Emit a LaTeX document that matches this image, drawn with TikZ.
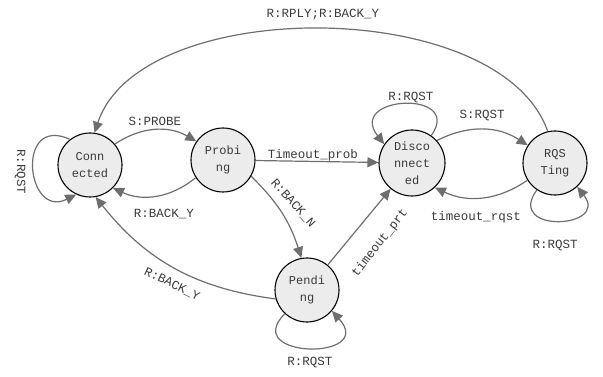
\documentclass[tikz,border=0pt]{standalone}
\usepackage{fontspec}
\setmonofont{Liberation Mono}
\usetikzlibrary{arrows.meta}
\definecolor{edgegray}{HTML}{6E6E6E}
\definecolor{statefill}{HTML}{ECECEC}
\definecolor{textgray}{HTML}{3A3A3A}
\tikzset{
  state/.style={circle, draw=black, line width=1.1pt, fill=statefill,
    minimum size=64pt, inner sep=0pt, align=center, text=textgray,
    font=\ttfamily\fontsize{12}{17}\selectfont},
  trans/.style={draw=edgegray, line width=1.2pt,
    -{Triangle[length=11pt,width=10pt]}},
  lbl/.style={text=textgray, font=\ttfamily\fontsize{12.5}{14}\selectfont, inner sep=1pt}
}
\begin{document}
\begin{tikzpicture}[x=1pt,y=1pt]
\useasboundingbox (0,0) rectangle (603,-377);

% states
\node[state] (C) at (90,-165)  {Conn\\ected};
\node[state] (P) at (223,-160) {Probi\\ng};
\node[state, minimum size=66pt] (D) at (412,-163) {Disco\\nnect\\ed};
\node[state] (R) at (555,-163) {RQS\\Ting};
\node[state] (N) at (307,-290) {Pendi\\ng};

% Connected
\draw[trans] (C.128) .. controls +(-55,25) and +(-50,-25) .. (C.-115);
\node[lbl, rotate=-90] (lC) at (20,-172) {R:RQST};
\draw[trans] (C.40) to[bend left=32] (P.145);
\node[lbl] (lCP) at (155,-121) {S:PROBE};

% Probing
\draw[trans] (P.213) to[bend left=32] (C.-45);
\node[lbl] (lPC) at (164,-214) {R:BACK\_Y};
\draw[trans] (P) -- (D);
\node[lbl] (lPD) at (313,-155) {Timeout\_prob};
\draw[trans] (P.-30) to[bend left=14] (N.100);
\node[lbl, rotate=-48] (lPN) at (293,-203) {R:BACK\_N};

% Pending
\draw[trans] (N.196) to[bend left=22] (C.-80);
\node[lbl, rotate=-26] (lNC) at (172,-284) {R:BACK\_Y};
\draw[trans] (N) -- (D);
\node[lbl, rotate=52] (lND) at (380,-243) {timeout\_prt};
\draw[trans] (N.-133) .. controls +(-45,-45) and +(45,-50) .. (N.-40);
\node[lbl] (lNN) at (310,-362) {R:RQST};

% Disconnected
\draw[trans] (D.55) .. controls +(33,46) and +(-38,49) .. (D.146);
\node[lbl] (lDD) at (411,-98) {R:RQST};
\draw[trans] (D.42) to[bend left=30] (R.147);
\node[lbl] (lDR) at (482,-116) {S:RQST};

% RQSTing
\draw[trans] (R.212) to[bend left=30] (D.-47);
\node[lbl] (lRD) at (476,-217) {timeout\_rqst};
\draw[trans] (R.-124) .. controls +(-32,-44) and +(33,-42) .. (R.-47);
\node[lbl] (lRR) at (555,-245) {R:RQST};
\draw[trans] (R.103) .. controls (500,5) and (140,5) .. (C.82);
\node[lbl] (lRC) at (323,-14) {R:RPLY;R:BACK\_Y};
\end{tikzpicture}
\end{document}
